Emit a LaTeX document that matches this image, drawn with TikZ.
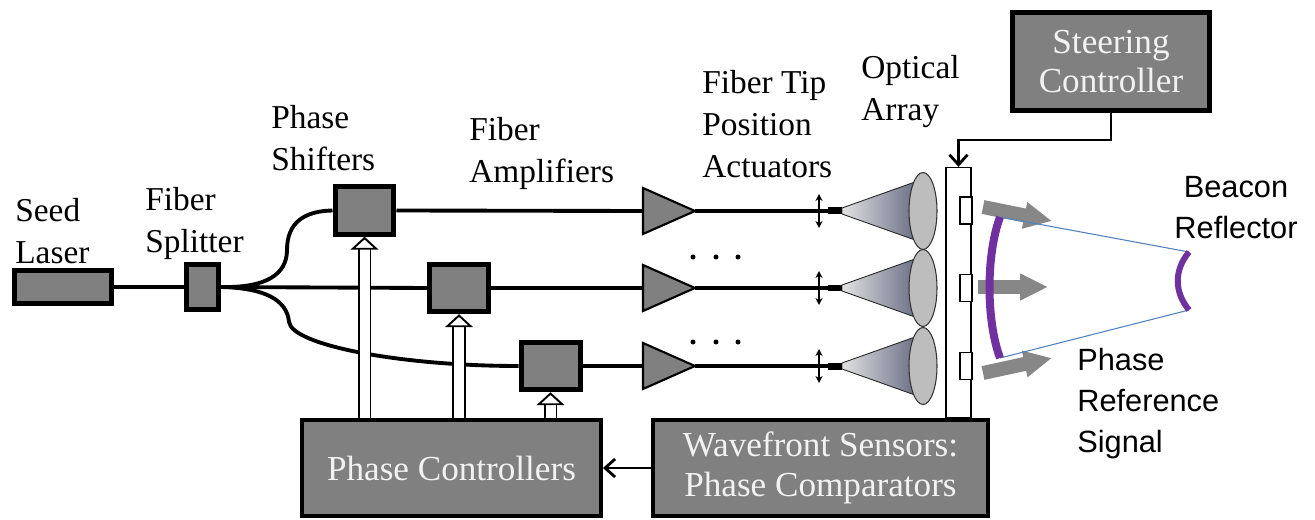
\documentclass[tikz,border=0pt]{standalone}
\usepackage{fontspec}
\setmainfont{Liberation Serif}
\newfontfamily\tagserif{Liberation Serif}
\newfontfamily\tagsans{Liberation Sans}
\usetikzlibrary{arrows.meta,shapes.geometric}
\definecolor{boxgrey}{HTML}{808080}
\definecolor{beamgrey}{HTML}{878787}
\definecolor{lensgrey}{HTML}{BDBDBD}
\definecolor{conelight}{HTML}{E2E2E2}
\definecolor{conedark}{HTML}{6C7186}
\definecolor{arcpurple}{HTML}{7030A0}
\definecolor{rayblue}{HTML}{4F81BD}
\begin{document}
\begin{tikzpicture}[x=0.02cm,y=-0.02cm,
box/.style={
% the grey blocks:
rectangle,
draw=black,
fill=boxgrey,
line width=0.1cm,
inner sep=0pt
},
shifter/.style={box,minimum width=1.18cm,minimum height=0.95cm},
bigbox/.style={box,line width=0.08cm,minimum height=1.92cm,
  text=white!95!black,align=center,font=\tagserif\fontsize{20}{22.7}\selectfont},
tag/.style={anchor=north west,inner sep=0pt,align=left,
  font=\tagserif\fontsize{19}{23.8}\selectfont},
sanstag/.style={inner sep=0pt,font=\tagsans\fontsize{17.5}{23.2}\selectfont},
fiber/.style={line width=2.2pt},
amp/.style={draw=black,fill=boxgrey,line width=1.2pt,line join=miter},
fibertip/.style={rectangle,fill=black,inner sep=0pt,minimum width=0.28cm,minimum height=0.14cm},
actuator/.style={line width=0.7pt,{Stealth[length=4pt,width=4pt]}-{Stealth[length=4pt,width=4pt]}},
cone/.style={draw=black!85,line width=0.5pt,left color=conelight,right color=conedark},
lens/.style={ellipse,draw=black!80,line width=0.6pt,fill=lensgrey,minimum width=0.56cm,minimum height=1.54cm,inner sep=0pt},
slot/.style={rectangle,draw=black,fill=white,line width=0.6pt,minimum width=0.24cm,minimum height=0.54cm,inner sep=0pt},
control/.style={draw=black,double=white,line width=1.1pt,double distance=0.2cm,
  -{Triangle[length=0.26cm,width=0.56cm,fill=white,line width=1.1pt]}},
signal/.style={draw=black,line width=1.6pt,-{Straight Barb[length=0.2cm,width=0.36cm]}},
beam/.style={draw=beamgrey,line width=0.28cm,-{Triangle[length=0.56cm,width=0.5cm]}},
ray/.style={draw=rayblue,line width=0.6pt}
]
\useasboundingbox (0,0) rectangle (1315,520);

% labels
\node[tag] (seedlbl) at (15,198) {Seed\\Laser};
\node[tag] (splitlbl) at (145,187) {Fiber\\Splitter};
\node[tag] (shiftlbl) at (271,105) {Phase\\Shifters};
\node[tag] (amplbl) at (469,117) {Fiber\\Amplifiers};
\node[tag] (actlbl) at (702,70) {Fiber Tip\\Position\\Actuators};
\node[tag] (arraylbl) at (861,55) {Optical\\Array};
\node[sanstag,anchor=north,align=center] (beaconlbl) at (1236,176) {Beacon\\Reflector};
\node[sanstag,anchor=north west,align=left] (reflbl) at (1077,348) {Phase\\Reference\\Signal};

% laser, splitter, phase shifters
\node[box,minimum width=1.94cm,minimum height=0.66cm] (laser) at (63,287) {};
\node[box,minimum width=0.64cm,minimum height=0.9cm] (splitter) at (202.5,287) {};
\node[shifter] (shifter1) at (364.5,210.5) {};
\node[shifter] (shifter2) at (459,288) {};
\node[shifter] (shifter3) at (550.5,366) {};

% the three channels
\foreach \i/\y in {1/211,2/288,3/366}{
  \coordinate (amp\i) at (643,\y);
  \coordinate (amptip\i) at (695,\y);
  \draw[amp] (643,\y-23) -- (amptip\i) -- (643,\y+23) -- cycle;
  \node[fibertip] (tip\i) at (835,\y) {};
  \draw[fiber] (amptip\i) -- (tip\i.west);
  \draw[actuator] (819,\y-17) -- (819,\y+17);
  \path[cone] (842,\y-3) -- (915,\y-29) -- (915,\y+29) -- (842,\y+3) -- cycle;
  \node[lens] (lens\i) at (923,\y) {};
}
\foreach \dy in {257,342}
  \foreach \dx in {693,716,738}
    \fill (\dx,\dy) circle (0.05cm);

% fibers
\draw[fiber,line width=2.6pt] (laser) -- (splitter);
\draw[fiber] (splitter.east) .. controls (265,288) and (287,275) .. (287,250)
  .. controls (287,222) and (305,211) .. (shifter1.west);
\draw[fiber] (splitter.east) -- (shifter2.west);
\draw[fiber] (splitter.east) .. controls (265,288) and (287,300) .. (289,322)
  .. controls (292,345) and (400,366) .. (shifter3.west);
\draw[fiber] (shifter1.east) -- (amp1);
\draw[fiber] (shifter2.east) -- (amp2);
\draw[fiber] (shifter3.east) -- (amp3);

% optical array plate
\node[rectangle,draw=black,fill=white,line width=0.8pt,minimum width=0.5cm,minimum height=5cm,inner sep=0pt] (plate) at (958.5,292.5) {};
\node[slot] (slot1) at (966,210.5) {};
\node[slot] (slot2) at (966,288) {};
\node[slot] (slot3) at (966,366) {};

% controllers
\node[bigbox,minimum width=5.98cm] (ctrl) at (451.5,468) {Phase Controllers};
\node[bigbox,minimum width=6.7cm] (wave) at (820.5,468) {Wavefront Sensors:\\Phase Comparators};
\node[box,minimum width=3.94cm,minimum height=1.96cm,text=white!95!black,align=center,
  font=\tagserif\fontsize{20}{22.7}\selectfont] (steer) at (1111,61.5) {Steering\\Controller};

\draw[control] (shifter1.south |- ctrl.north) -- (shifter1.south);
\draw[control] (shifter2.south |- ctrl.north) -- (shifter2.south);
\draw[control] (shifter3.south |- ctrl.north) -- (shifter3.south);
\draw[signal] (wave.west) -- (ctrl.east);
\draw[signal] (steer.south) -- ++(0,27) -| (plate.north);

% beams and reflector
\draw[beam] (983,207) -- (1052,221);
\draw[beam] (978,287) -- (1048,287);
\draw[beam] (983,373) -- (1052,358);
\draw[ray] (1000,217) -- (1189,252);
\draw[ray] (1000,358) -- (1189,310);
\draw[arcpurple,line width=0.16cm] (1000,217) .. controls (986,255) and (986,320) .. (1000,358);
\draw[arcpurple,line width=0.12cm] (1189,252) .. controls (1174,270) and (1174,292) .. (1189,310);
\end{tikzpicture}
\end{document}
